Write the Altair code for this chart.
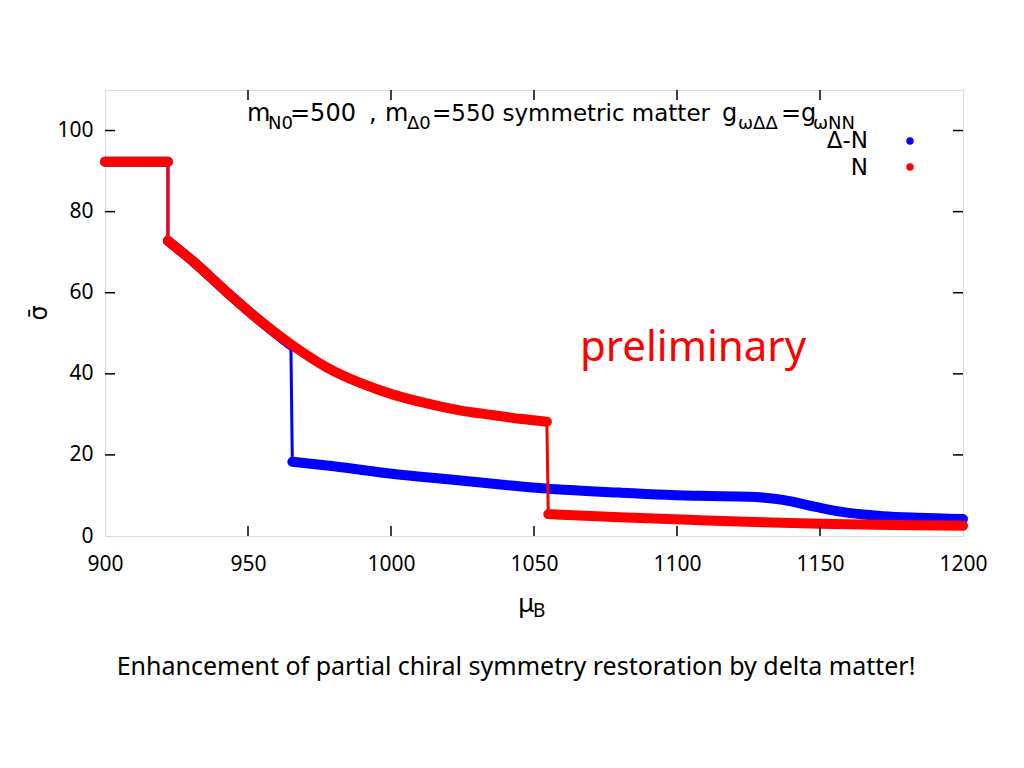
import altair as alt
import pandas as pd

# ---------------- data ----------------
# N (red) : three branches
n_seg1_mu = [900, 922]
n_seg1_sig = [92.3, 92.3]
n_seg2_mu = [922, 931, 942.5, 954, 966, 977.5, 989, 1001, 1012.5, 1024, 1036, 1045, 1054.5]
n_seg2_sig = [72.8, 67.6, 60.2, 53.2, 46.8, 41.6, 37.8, 34.8, 32.7, 31.0, 29.8, 28.9, 28.2]
n_seg3_mu = [1055, 1080, 1108, 1130, 1150, 1175, 1200]
n_seg3_sig = [5.4, 4.6, 3.9, 3.4, 3.0, 2.7, 2.5]

# Delta-N (blue): follows N up to 965, then jumps down
d_seg1_mu = [900, 922]
d_seg1_sig = [92.3, 92.3]
d_seg2_mu = [922, 931, 942.5, 954, 965]
d_seg2_sig = [72.8, 67.6, 60.2, 53.2, 47.0]
d_seg3_mu = [965.5, 980, 1001, 1020, 1040, 1054, 1080, 1108, 1125, 1137, 1149, 1160, 1172, 1184, 1200]
d_seg3_sig = [18.3, 17.2, 15.3, 14.0, 12.6, 11.7, 10.7, 9.9, 9.7, 8.9, 7.1, 5.7, 4.9, 4.5, 4.2]

x_ticks = [900, 950, 1000, 1050, 1100, 1150, 1200]
y_ticks = [0, 20, 40, 60, 80, 100]

BLUE = "#0000ff"
RED = "#ff0000"


def series_frame(segs):
    rows = []
    order = 0
    for k, (mus, sigs) in enumerate(segs):
        for m, s in zip(mus, sigs):
            rows.append({"mu": m, "sigma": s, "seg": k, "order": order})
            order += 1
    return pd.DataFrame(rows)


df_n = series_frame([(n_seg1_mu, n_seg1_sig), (n_seg2_mu, n_seg2_sig), (n_seg3_mu, n_seg3_sig)])
df_d = series_frame([(d_seg1_mu, d_seg1_sig), (d_seg2_mu, d_seg2_sig), (d_seg3_mu, d_seg3_sig)])

xscale = alt.Scale(domain=[900, 1200], nice=False, zero=False)
yscale = alt.Scale(domain=[0, 110], nice=False)

X = alt.X("mu:Q", scale=xscale,
          axis=alt.Axis(values=x_ticks, format="d", title=None, tickSize=0, domain=False,
                        grid=False, labelPadding=17, labelFontSize=21, labelFont="Noto Sans",
                        labelColor="black", labelFlush=False))
Y = alt.Y("sigma:Q", scale=yscale,
          axis=alt.Axis(values=y_ticks, format="d", title=None, tickSize=0, domain=False,
                        grid=False, labelPadding=12, labelFontSize=21, labelFont="Noto Sans",
                        labelColor="black"))


def curve(df, color):
    thin = alt.Chart(df).mark_line(color=color, strokeWidth=3).encode(
        x=X, y=Y, order="order:Q")
    thick = alt.Chart(df).mark_line(color=color, strokeWidth=10, strokeCap="round",
                                    strokeJoin="round", interpolate="monotone").encode(
        x=X, y=Y, detail="seg:N", order="order:Q")
    return [thin, thick]


layers = []
layers += curve(df_d, BLUE)
layers += curve(df_n, RED)

# inward tick marks on all four sides (gnuplot style, mirrored)
xt = pd.DataFrame({"mu": x_ticks[1:-1]})
yt = pd.DataFrame({"sigma": y_ticks[1:]})
tick_style = dict(color="black", strokeWidth=1.5)
layers.append(alt.Chart(xt).mark_rule(**tick_style).encode(
    x=alt.X("mu:Q", scale=xscale), y=alt.datum(0), y2=alt.datum(2.46)))
layers.append(alt.Chart(xt).mark_rule(**tick_style).encode(
    x=alt.X("mu:Q", scale=xscale), y=alt.datum(110), y2=alt.datum(107.54)))
layers.append(alt.Chart(yt).mark_rule(**tick_style).encode(
    y=alt.Y("sigma:Q", scale=yscale), x=alt.datum(900), x2=alt.datum(903.5)))
layers.append(alt.Chart(yt).mark_rule(**tick_style).encode(
    y=alt.Y("sigma:Q", scale=yscale), x=alt.datum(1200), x2=alt.datum(1196.5)))

# ---------------- text annotations (pixel positions relative to plot origin) ----------------
OX, OY = 105, 90


def txt(text, x, y, size, font="DejaVu Sans", color="black", align="left",
        baseline="alphabetic", angle=0):
    kw = dict(text=text, font=font, fontSize=size, color=color, align=align,
              baseline=baseline)
    if angle:
        kw["angle"] = angle
    return alt.Chart(pd.DataFrame({"a": [0]})).mark_text(**kw).encode(
        x=alt.value(x - OX), y=alt.value(y - OY))


title_pieces = [
    ("m", 247, 121, 24), ("N0", 268, 129, 18), ("=500", 290, 121, 24),
    (",", 369, 121, 24), ("m", 385, 121, 24),
    ("Δ0", 407, 129, 18), ("=550 symmetric matter", 432, 121, 23), ("g", 722, 121, 24),
    ("ωΔΔ", 738, 129, 18), ("=g", 781, 121, 24), ("ωNN", 813, 129, 18),
]
for t, x, y, s in title_pieces:
    layers.append(txt(t, x, y, s))

# legend
layers.append(txt("Δ-N", 868, 148, 23, align="right"))
layers.append(txt("N", 868, 175, 23, align="right"))
layers.append(alt.Chart(pd.DataFrame({"a": [0]})).mark_point(
    filled=True, color=BLUE, size=55, opacity=1).encode(
    x=alt.value(910 - OX), y=alt.value(141 - OY)))
layers.append(alt.Chart(pd.DataFrame({"a": [0]})).mark_point(
    filled=True, color=RED, size=55, opacity=1).encode(
    x=alt.value(910 - OX), y=alt.value(167 - OY)))

# preliminary
layers.append(txt("preliminary", 580, 361, 42, font="Noto Sans", color=RED))

# axis titles
layers.append(txt("μ", 518, 612, 26, font="Noto Sans"))
layers.append(txt("B", 533, 617, 19, font="Noto Sans"))
layers.append(txt("σ̄", 40, 313, 24, align="center", baseline="middle", angle=270))

# caption
layers.append(txt("Enhancement of partial chiral symmetry restoration by delta matter!",
                  516, 675, 25, font="Noto Sans", align="center"))

chart = alt.layer(*layers).properties(
    width=858, height=446,
    autosize=alt.AutoSizeParams(type="none"),
    padding={"left": 97, "top": 82, "right": 53, "bottom": 224},
).configure_view(stroke="black", strokeWidth=1.5).configure(background="white")

chart.save("out.html", embed_options={"renderer": "svg", "actions": False})
